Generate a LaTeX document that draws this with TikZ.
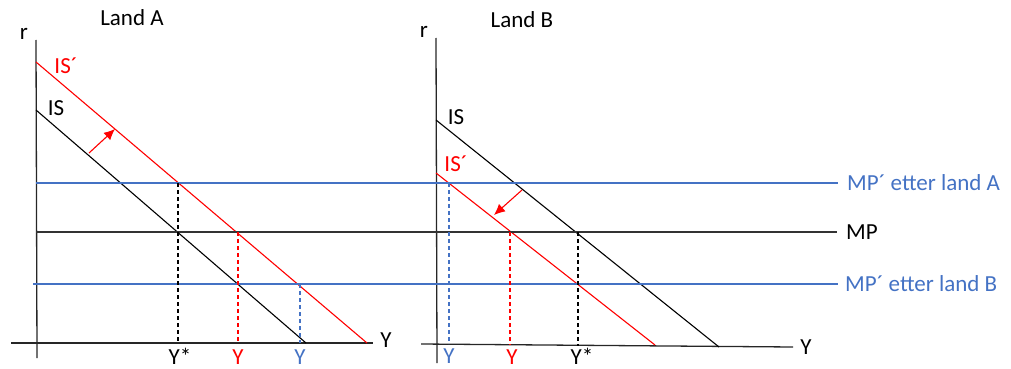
\documentclass[tikz,border=0pt]{standalone}
\usepackage{fontspec}
\setmainfont{Carlito}
\usetikzlibrary{arrows.meta}
\definecolor{offblue}{RGB}{68,114,196}
\definecolor{myred}{RGB}{255,0,0}
\tikzset{
  lbl/.style={font=\fontsize{23}{25}\selectfont, inner sep=0pt},
  axisline/.style={draw=black!85, line width=1.3pt},
  isline/.style={draw=black, line width=1.1pt},
  isred/.style={draw=myred, line width=1.1pt},
  mpblue/.style={draw=offblue, line width=1.1pt},
  mpblack/.style={draw=black!80, line width=1.1pt},
  guide/.style={dashed, dash pattern=on 4pt off 3pt, line width=1.1pt},
  shiftarrow/.style={draw=myred, line width=1.1pt, -{Latex[length=11pt,width=10pt]}},
}
\begin{document}
\begin{tikzpicture}[x=1pt,y=-1pt]
\useasboundingbox (0,0) rectangle (1011,369);
% ---------- Land A ----------
\node[lbl] (titleA) at (132,18) {Land A};
\coordinate (rAtop) at (36,40);
\coordinate (rAbot) at (37,358);
\draw[axisline] (rAtop) -- (rAbot);
\node[lbl] (rA) at (24,34) {r};
\coordinate (xAl) at (11,343);
\coordinate (xAr) at (373,343);
\draw[axisline] (xAl) -- (xAr);
\node[lbl] (YA) at (386,340) {Y};
% IS curves
\coordinate (ISa1) at (36,110);
\coordinate (ISa2) at (306,343);
\draw[isline] (ISa1) -- (ISa2);
\node[lbl] (ISalbl) at (56,108) {IS};
\coordinate (ISpa1) at (36,62);
\coordinate (ISpa2) at (367,343);
\draw[isred] (ISpa1) -- (ISpa2);
\node[lbl, text=myred] (ISpalbl) at (66,66) {IS´};
\coordinate (arrA1) at (89,153);
\coordinate (arrA2) at (115,129);
\draw[shiftarrow] (arrA1) -- (arrA2);
% ---------- Land B ----------
\node[lbl] (titleB) at (522,20) {Land B};
\coordinate (rBtop) at (436,38);
\coordinate (rBbot) at (437,363);
\draw[axisline] (rBtop) -- (rBbot);
\node[lbl] (rB) at (424,32) {r};
\coordinate (xBl) at (421,344);
\coordinate (xBr) at (793,347);
\draw[axisline] (xBl) -- (xBr);
\node[lbl] (YB) at (806,347) {Y};
\coordinate (ISb1) at (436,120);
\coordinate (ISb2) at (719,347);
\draw[isline] (ISb1) -- (ISb2);
\node[lbl] (ISblbl) at (456,117) {IS};
\coordinate (ISpb1) at (436,173);
\coordinate (ISpb2) at (655,345);
\draw[isred] (ISpb1) -- (ISpb2);
\node[lbl, text=myred] (ISpblbl) at (456,164) {IS´};
\coordinate (arrB1) at (522,190);
\coordinate (arrB2) at (494,215);
\draw[shiftarrow] (arrB1) -- (arrB2);
% ---------- MP lines ----------
\coordinate (mpa1) at (36,183);
\coordinate (mpa2) at (838,183);
\draw[mpblue] (mpa1) -- (mpa2);
\node[lbl, text=offblue, anchor=west] (mpalbl) at (847,183) {MP´ etter land A};
\coordinate (mp1) at (36,232);
\coordinate (mp2) at (837,232);
\draw[mpblack] (mp1) -- (mp2);
\node[lbl, anchor=west] (mplbl) at (846,232) {MP};
\coordinate (mpb1) at (33,284);
\coordinate (mpb2) at (838,284);
\draw[mpblue] (mpb1) -- (mpb2);
\node[lbl, text=offblue, anchor=west] (mpblbl) at (845,284) {MP´ etter land B};
% ---------- dashed guides A ----------
\coordinate (gA1t) at (178,183); \coordinate (gA1b) at (178,343);
\draw[guide, draw=black] (gA1t) -- (gA1b);
\node[lbl] (YsA) at (180,356) {Y*};
\coordinate (gA2t) at (238,232); \coordinate (gA2b) at (238,343);
\draw[guide, draw=myred] (gA2t) -- (gA2b);
\node[lbl, text=myred] (YrA) at (238,357) {Y};
\coordinate (gA3t) at (300,284); \coordinate (gA3b) at (300,343);
\draw[guide, draw=offblue] (gA3t) -- (gA3b);
\node[lbl, text=offblue] (YbA) at (300,357) {Y};
% ---------- dashed guides B ----------
\coordinate (gB1t) at (449,183); \coordinate (gB1b) at (449,344);
\draw[guide, draw=offblue] (gB1t) -- (gB1b);
\node[lbl, text=offblue] (YbB) at (449,356) {Y};
\coordinate (gB2t) at (510,232); \coordinate (gB2b) at (510,345);
\draw[guide, draw=myred] (gB2t) -- (gB2b);
\node[lbl, text=myred] (YrB) at (512,357) {Y};
\coordinate (gB3t) at (578,232); \coordinate (gB3b) at (578,346);
\draw[guide, draw=black] (gB3t) -- (gB3b);
\node[lbl] (YsB) at (582,356) {Y*};
\end{tikzpicture}
\end{document}
